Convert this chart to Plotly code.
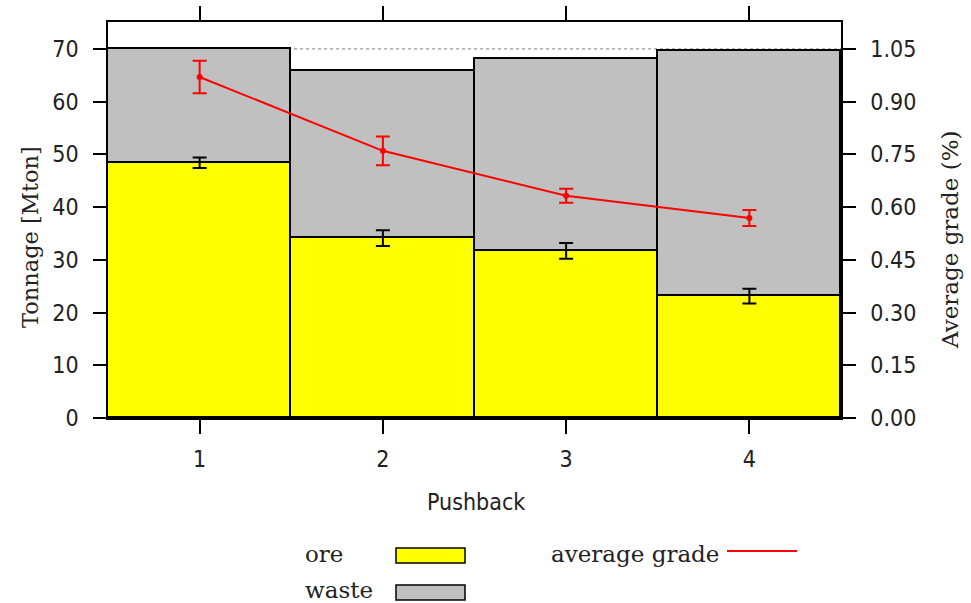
import plotly.graph_objects as go

# ---- data ----
pushback = [1, 2, 3, 4]
ore = [48.4, 34.1, 31.7, 23.1]
ore_err = [1.0, 1.5, 1.5, 1.4]
waste = [21.6, 31.7, 36.4, 46.5]
grade = [0.970, 0.760, 0.632, 0.569]
grade_err = [0.046, 0.041, 0.020, 0.023]
left_ticks = [0, 10, 20, 30, 40, 50, 60, 70]
right_ticks = [0.0, 0.15, 0.30, 0.45, 0.60, 0.75, 0.90, 1.05]
ref_line = 70

# ---- layout geometry (pixels) ----
W, H = 971, 603
L, R, T, B = 108, 130, 22, 185
PW, PH = W - L - R, H - T - B


def px(x):
    return (x - L) / PW


def py(y):
    return (H - B - y) / PH


SANS = "DejaVu Sans Condensed, DejaVu Sans, sans-serif"
SERIF = "DejaVu Serif, serif"
TXT = "#222222"

fig = go.Figure()
fig.add_trace(go.Bar(
    x=pushback, y=ore, name="ore", width=1,
    marker=dict(color="#ffff00", line=dict(color="black", width=1.8)),
))
fig.add_trace(go.Bar(
    x=pushback, y=waste, name="waste", width=1,
    marker=dict(color="#c0c0c0", line=dict(color="black", width=1.8)),
))
# ore error bars drawn above both bar layers
fig.add_trace(go.Scatter(
    x=pushback, y=ore, mode="markers", marker=dict(size=0.1, color="black", opacity=0),
    error_y=dict(type="data", array=ore_err, color="black", thickness=2, width=7),
    hoverinfo="skip",
))
fig.add_trace(go.Scatter(
    x=pushback, y=grade, yaxis="y2", name="average grade", mode="lines+markers",
    line=dict(color="#ff0000", width=2), marker=dict(color="#ff0000", size=6),
    error_y=dict(type="data", array=grade_err, color="#ff0000", thickness=2, width=7),
))

fig.add_shape(type="line", xref="x", yref="y", x0=0.5, x1=4.5, y0=ref_line, y1=ref_line,
              line=dict(color="#999999", width=1.2, dash="dot"), layer="below")

fig.update_layout(
    width=W, height=H, margin=dict(l=L, r=R, t=T, b=B, autoexpand=False),
    paper_bgcolor="white", plot_bgcolor="white",
    barmode="stack", bargap=0, showlegend=False,
    font=dict(family=SANS, size=23, color=TXT),
    xaxis=dict(range=[0.5, 4.5], tickvals=pushback, ticks="outside", ticklen=14,
               tickwidth=1.5, tickcolor="black", showline=True, linecolor="black",
               linewidth=1.5, mirror="ticks", showgrid=False, zeroline=False,
               ticklabelstandoff=6, automargin=False),
    yaxis=dict(range=[0, 75.1], tickvals=left_ticks, ticks="outside", ticklen=13,
               tickwidth=1.5, tickcolor="black", showline=True, linecolor="black",
               linewidth=1.5, showgrid=False, zeroline=False, ticklabelstandoff=10,
               automargin=False),
    yaxis2=dict(range=[0, 75.1 * 0.015], tickvals=right_ticks, tickformat=".2f",
                overlaying="y", side="right", ticks="outside", ticklen=13,
                tickwidth=1.5, tickcolor="black", showline=True, linecolor="black",
                linewidth=1.5, showgrid=False, zeroline=False, ticklabelstandoff=10,
                automargin=False),
)

ann = [
    dict(text="Tonnage [Mton]", x=px(30), y=py(237), textangle=-90,
         font=dict(family=SERIF, size=22.5, color=TXT)),
    dict(text="Average grade (%)", x=px(950), y=py(240), textangle=-90,
         font=dict(family=SERIF, size=23, color=TXT)),
    dict(text="Pushback", x=px(476), y=py(502), font=dict(family=SANS, size=23, color=TXT)),
    dict(text="ore", x=px(303), y=py(554), xanchor="left",
         font=dict(family=SERIF, size=23, color=TXT)),
    dict(text="waste", x=px(303), y=py(590), xanchor="left",
         font=dict(family=SERIF, size=23, color=TXT)),
    dict(text="average grade", x=px(721), y=py(554), xanchor="right",
         font=dict(family=SERIF, size=23, color=TXT)),
]
for a in ann:
    a.setdefault("xanchor", "center")
    fig.add_annotation(xref="paper", yref="paper", showarrow=False, yanchor="middle", **a)

fig.add_shape(type="rect", xref="paper", yref="paper", x0=px(396), x1=px(465),
              y0=py(548), y1=py(563), fillcolor="#ffff00", line=dict(color="black", width=1.5))
fig.add_shape(type="rect", xref="paper", yref="paper", x0=px(396), x1=px(465),
              y0=py(585), y1=py(600), fillcolor="#c0c0c0", line=dict(color="black", width=1.5))
fig.add_shape(type="line", xref="paper", yref="paper", x0=px(727), x1=px(797),
              y0=py(551), y1=py(551), line=dict(color="#ff0000", width=2))

fig.write_html("out.html", config={"displayModeBar": False},
               post_script="document.body.style.margin='0';document.body.style.overflow='hidden';")
